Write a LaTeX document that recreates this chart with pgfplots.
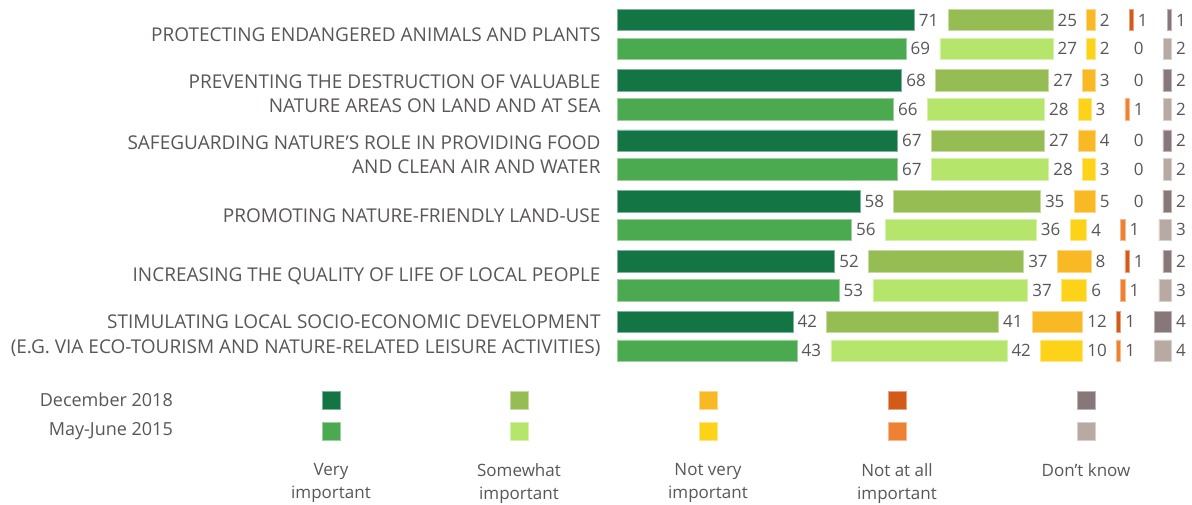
\documentclass[border=0pt]{standalone}
\usepackage{pgfplots}
\pgfplotsset{compat=1.18}
\usepackage{fontspec}
\setmainfont{Open Sans}
\definecolor{dA}{HTML}{137544}
\definecolor{mA}{HTML}{4BAA50}
\definecolor{dB}{HTML}{95BD53}
\definecolor{mB}{HTML}{B5E66B}
\definecolor{dC}{HTML}{F9B924}
\definecolor{mC}{HTML}{FDD319}
\definecolor{dD}{HTML}{D35A18}
\definecolor{mD}{HTML}{EE8232}
\definecolor{dE}{HTML}{887779}
\definecolor{mE}{HTML}{B8AAA2}
\definecolor{txt}{HTML}{5A5558}
\pgfplotsset{
  base/.style={at={(0,0)}, anchor=south west, scale only axis, width=1192pt, height=504pt,
    ymin=0, ymax=504, y dir=reverse, hide axis, clip=false},
  dat/.style={base, xmin=-147.36, xmax=137.33},
  bars/.style={dat, xbar stacked, bar width=21.5pt},
  vis/.style={fill=#1, draw=#1!55!white, line width=0.6pt},
  spacer/.style={fill=none, draw=none},
  lg/.style={only marks, mark=square*, mark size=8.8pt, mark options={fill=#1, draw=#1!55!white, line width=0.6pt}},
}
\begin{document}
\begin{tikzpicture}
% December 2018
\begin{axis}[bars]
\addplot[vis=dA] coordinates {(71,20) (68,80.4) (67,140.7) (58,201.1) (52,261.4) (42,321.8)};
\addplot[spacer] coordinates {(8.1,20) (8.1,80.4) (8.1,140.7) (8.1,201.1) (8.1,261.4) (8.1,321.8)};
\addplot[vis=dB] coordinates {(25,20) (27,80.4) (27,140.7) (35,201.1) (37,261.4) (41,321.8)};
\addplot[spacer] coordinates {(8.1,20) (8.1,80.4) (8.1,140.7) (8.1,201.1) (8.1,261.4) (8.1,321.8)};
\addplot[vis=dC] coordinates {(2,20) (3,80.4) (4,140.7) (5,201.1) (8,261.4) (12,321.8)};
\addplot[spacer] coordinates {(8.1,20) (8.1,80.4) (8.1,140.7) (8.1,201.1) (8.1,261.4) (8.1,321.8)};
\addplot[vis=dD] coordinates {(1,20) (0,80.4) (0,140.7) (0,201.1) (1,261.4) (1,321.8)};
\addplot[spacer] coordinates {(8.1,20) (8.1,80.4) (8.1,140.7) (8.1,201.1) (8.1,261.4) (8.1,321.8)};
\addplot[vis=dE] coordinates {(1,20) (2,80.4) (2,140.7) (2,201.1) (2,261.4) (4,321.8)};
\path (rel axis cs:0,0) rectangle (rel axis cs:1,1);
\end{axis}
% May-June 2015
\begin{axis}[bars]
\addplot[vis=mA] coordinates {(69,48.8) (66,109.2) (67,169.5) (56,229.9) (53,290.2) (43,350.6)};
\addplot[spacer] coordinates {(8.1,48.8) (8.1,109.2) (8.1,169.5) (8.1,229.9) (8.1,290.2) (8.1,350.6)};
\addplot[vis=mB] coordinates {(27,48.8) (28,109.2) (28,169.5) (36,229.9) (37,290.2) (42,350.6)};
\addplot[spacer] coordinates {(8.1,48.8) (8.1,109.2) (8.1,169.5) (8.1,229.9) (8.1,290.2) (8.1,350.6)};
\addplot[vis=mC] coordinates {(2,48.8) (3,109.2) (3,169.5) (4,229.9) (6,290.2) (10,350.6)};
\addplot[spacer] coordinates {(8.1,48.8) (8.1,109.2) (8.1,169.5) (8.1,229.9) (8.1,290.2) (8.1,350.6)};
\addplot[vis=mD] coordinates {(0,48.8) (1,109.2) (0,169.5) (1,229.9) (1,290.2) (1,350.6)};
\addplot[spacer] coordinates {(8.1,48.8) (8.1,109.2) (8.1,169.5) (8.1,229.9) (8.1,290.2) (8.1,350.6)};
\addplot[vis=mE] coordinates {(2,48.8) (2,109.2) (2,169.5) (3,229.9) (3,290.2) (4,350.6)};
\end{axis}
% value labels (at the end of each segment)
\begin{axis}[dat]
\addplot[only marks, mark=none, point meta=explicit symbolic, nodes near coords,
  nodes near coords align=horizontal,
  every node near coord/.append style={anchor=west, inner sep=0pt, xshift=4.5pt, text=txt, font={\fontsize{17}{20}\selectfont}}]
coordinates {
(71,20)[71] (104.1,20)[25] (114.2,20)[2] (123.3,20)[1] (132.4,20)[1]
(68,80.4)[68] (103.1,80.4)[27] (114.2,80.4)[3] (122.3,80.4)[0] (132.4,80.4)[2]
(67,140.7)[67] (102.1,140.7)[27] (114.2,140.7)[4] (122.3,140.7)[0] (132.4,140.7)[2]
(58,201.1)[58] (101.1,201.1)[35] (114.2,201.1)[5] (122.3,201.1)[0] (132.4,201.1)[2]
(52,261.4)[52] (97.1,261.4)[37] (113.2,261.4)[8] (122.3,261.4)[1] (132.4,261.4)[2]
(42,321.8)[42] (91.1,321.8)[41] (111.2,321.8)[12] (120.3,321.8)[1] (132.4,321.8)[4]
(69,48.8)[69] (104.1,48.8)[27] (114.2,48.8)[2] (122.3,48.8)[0] (132.4,48.8)[2]
(66,109.2)[66] (102.1,109.2)[28] (113.2,109.2)[3] (122.3,109.2)[1] (132.4,109.2)[2]
(67,169.5)[67] (103.1,169.5)[28] (114.2,169.5)[3] (122.3,169.5)[0] (132.4,169.5)[2]
(56,229.9)[56] (100.1,229.9)[36] (112.2,229.9)[4] (121.3,229.9)[1] (132.4,229.9)[3]
(53,290.2)[53] (98.1,290.2)[37] (112.2,290.2)[6] (121.3,290.2)[1] (132.4,290.2)[3]
(43,350.6)[43] (93.1,350.6)[42] (111.2,350.6)[10] (120.3,350.6)[1] (132.4,350.6)[4]
};
\begin{scope}[every node/.style={anchor=east, align=right, text=txt, font={\fontsize{19}{24.5}\selectfont}, inner sep=0pt}]
\node at (axis cs:-3.9,34.8) {PROTECTING ENDANGERED ANIMALS AND PLANTS};
\node at (axis cs:-3.9,93.6) {PREVENTING THE DESTRUCTION OF VALUABLE\\NATURE AREAS ON LAND AND AT SEA};
\node at (axis cs:-3.9,154.5) {SAFEGUARDING NATURE’S ROLE IN PROVIDING FOOD\\AND CLEAN AIR AND WATER};
\node at (axis cs:-3.9,215.5) {PROMOTING NATURE-FRIENDLY LAND-USE};
\node at (axis cs:-3.9,276.3) {INCREASING THE QUALITY OF LIFE OF LOCAL PEOPLE};
\node at (axis cs:-3.9,335.6) {STIMULATING LOCAL SOCIO-ECONOMIC DEVELOPMENT\\(E.G. VIA ECO-TOURISM AND NATURE-RELATED LEISURE ACTIVITIES)};
\end{scope}
\end{axis}
% Legend
\begin{axis}[base, xmin=0, xmax=1192]
\addplot[lg=dA] coordinates {(331,400)};
\addplot[lg=dB] coordinates {(519,400)};
\addplot[lg=dC] coordinates {(708,400)};
\addplot[lg=dD] coordinates {(897,400)};
\addplot[lg=dE] coordinates {(1086,400)};
\addplot[lg=mA] coordinates {(331,431)};
\addplot[lg=mB] coordinates {(519,431)};
\addplot[lg=mC] coordinates {(708,431)};
\addplot[lg=mD] coordinates {(897,431)};
\addplot[lg=mE] coordinates {(1086,431)};
\begin{scope}[every node/.style={text=txt, inner sep=0pt, font={\fontsize{17}{23}\selectfont}}]
\node[anchor=east, font={\fontsize{18}{23}\selectfont}] at (axis cs:173,400) {December 2018};
\node[anchor=east, font={\fontsize{18}{23}\selectfont}] at (axis cs:173,431) {May-June 2015};
\node[anchor=north, align=center] at (axis cs:331,463.5) {Very\\important};
\node[anchor=north, align=center] at (axis cs:519,463.5) {Somewhat\\important};
\node[anchor=north, align=center] at (axis cs:708,463.5) {Not very\\important};
\node[anchor=north, align=center] at (axis cs:897,463.5) {Not at all\\important};
\node[anchor=north, align=center] at (axis cs:1086,463.5) {Don\char"0027 t know};
\end{scope}
\end{axis}
\end{tikzpicture}
\end{document}
